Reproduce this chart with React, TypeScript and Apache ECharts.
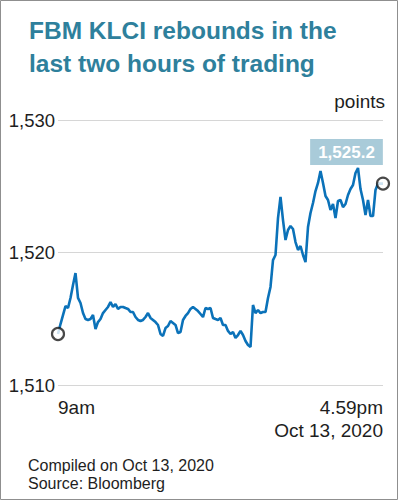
import React, { useEffect, useRef } from "react";
import * as echarts from "echarts";

const titleText = "FBM KLCI rebounds in the\nlast two hours of trading";
const unitText = "points";
const footerLines = ["Compiled on Oct 13, 2020", "Source: Bloomberg"];
const startLabel = "9am";
const endLabel = "4.59pm\nOct 13, 2020";
const yTicks = [1510, 1520, 1530];
const closeLabel = "1,525.2";

const values = [
  1513.85, 1514.6, 1515.28, 1515.96, 1515.81, 1516.57, 1517.55, 1518.45, 1516.57, 1516.19,
  1515.43, 1514.98, 1514.91, 1514.98, 1515.28, 1514.23, 1514.75, 1514.98, 1515.43, 1515.66,
  1515.89, 1516.26, 1515.89, 1516.11, 1515.74, 1515.89, 1515.89, 1515.81, 1515.74, 1515.51,
  1515.51, 1515.13, 1514.91, 1514.83, 1514.91, 1515.13, 1515.43, 1515.06, 1514.91, 1514.75,
  1514.53, 1513.85, 1513.7, 1514.3, 1514.45, 1514.83, 1514.68, 1514.53, 1513.92, 1514.0,
  1514.91, 1515.21, 1515.43, 1515.74, 1515.89, 1515.74, 1515.58, 1515.36, 1515.13, 1515.81,
  1515.74, 1515.81, 1515.06, 1514.98, 1514.91, 1515.06, 1514.53, 1514.53, 1514.08, 1513.85,
  1514.0, 1513.55, 1513.77, 1514.08, 1513.77, 1513.32, 1513.02, 1512.87, 1516.04, 1515.43,
  1515.66, 1515.43, 1515.51, 1515.51, 1516.57, 1517.4, 1519.43, 1519.81, 1522.6, 1524.19,
  1522.45, 1520.94, 1521.7, 1522.0, 1521.77, 1520.79, 1520.19, 1520.49, 1519.81, 1519.28,
  1521.92, 1522.98, 1523.74, 1524.64, 1525.25, 1526.15, 1525.25, 1524.26, 1523.96, 1523.21,
  1523.66, 1522.6, 1523.89, 1523.96, 1523.43, 1523.66, 1524.34, 1524.79, 1525.09, 1526.0,
  1526.38, 1524.79, 1523.96, 1522.83, 1523.96, 1522.75, 1522.75, 1524.72, 1525.2, 1525.2,
  1525.2,
];

const categories = values.map((_, i) => String(i));

const FONT = "'Liberation Sans', Arial, Helvetica, sans-serif";
const TEXT = "#1e1e1e";

export default function App() {
  const ref = useRef<HTMLDivElement>(null);

  useEffect(() => {
    if (!ref.current) return;
    const chart = echarts.init(ref.current, null, { renderer: "svg" });
    const last = values.length - 1;
    chart.setOption({
      animation: false,
      backgroundColor: "#ffffff",
      textStyle: { fontFamily: FONT },
      title: {
        text: titleText,
        left: 24,
        top: 9,
        textStyle: {
          fontFamily: FONT,
          fontSize: 24.5,
          fontWeight: "bold",
          color: "#2e809c",
          lineHeight: 33,
        },
      },
      grid: {
        left: 58,
        right: 15,
        top: 120,
        bottom: 115,
        containLabel: false,
        outerBoundsMode: "none",
      },
      xAxis: {
        type: "category",
        data: categories,
        boundaryGap: false,
        axisLine: { show: false },
        axisTick: { show: false },
        splitLine: { show: false },
        axisLabel: {
          interval: (i: number) => i === 0 || i === last,
          formatter: (_v: string, i: number) => (i === 0 ? startLabel : i === last ? endLabel : ""),
          alignMinLabel: "left",
          alignMaxLabel: "right",
          fontFamily: FONT,
          fontSize: 19,
          color: TEXT,
          lineHeight: 23,
          margin: 11,
          verticalAlign: "top",
        },
      },
      yAxis: {
        type: "value",
        min: yTicks[0],
        max: yTicks[yTicks.length - 1],
        interval: yTicks[1] - yTicks[0],
        axisLine: { show: false },
        axisTick: { show: false },
        splitLine: { lineStyle: { color: "#d6d6d6", width: 1 } },
        axisLabel: {
          formatter: (v: number) => v.toLocaleString("en-US"),
          fontFamily: FONT,
          fontSize: 18.5,
          color: TEXT,
          margin: 3,
        },
      },
      series: [
        {
          type: "line",
          data: values,
          showSymbol: false,
          lineStyle: { color: "#0b72b9", width: 2.6 },
          itemStyle: { color: "#0b72b9" },
          z: 2,
          markPoint: {
            symbol: "circle",
            symbolSize: 1,
            itemStyle: { color: "rgba(0,0,0,0)" },
            data: [
              {
                coord: [categories[last], values[last]],
                label: {
                  show: true,
                  formatter: closeLabel,
                  position: "top",
                  distance: 18,
                  offset: [-36.5, 0],
                  backgroundColor: "#a9cbd9",
                  color: "#ffffff",
                  fontFamily: FONT,
                  fontWeight: "bold",
                  fontSize: 17,
                  padding: [5, 8, 4, 8],
                },
              },
            ],
          },
        },
        {
          type: "scatter",
          data: [
            [categories[0], values[0]],
            [categories[last], values[last]],
          ],
          symbol: "circle",
          symbolSize: 12,
          itemStyle: { color: "#ffffff", borderColor: "#1a1a1a", borderWidth: 2.2 },
          z: 5,
        },
      ],
      graphic: [
        {
          type: "rect",
          shape: { x: 0.5, y: 0.5, width: 397, height: 499 },
          style: { fill: "none", stroke: "#8f8f8f", lineWidth: 1 },
          silent: true,
        },
        {
          type: "text",
          right: 13,
          top: 92,
          style: { text: unitText, fontFamily: FONT, fontSize: 19, fill: TEXT },
        },
        {
          type: "text",
          left: 28,
          top: 456,
          style: {
            text: footerLines.join("\n"),
            fontFamily: FONT,
            fontSize: 16,
            lineHeight: 18,
            fill: TEXT,
          },
        },
      ],
    });
    return () => chart.dispose();
  }, []);

  return (
    <div
      ref={ref}
      style={{ position: "absolute", left: 0, top: 0, width: 398, height: 500 }}
    />
  );
}
